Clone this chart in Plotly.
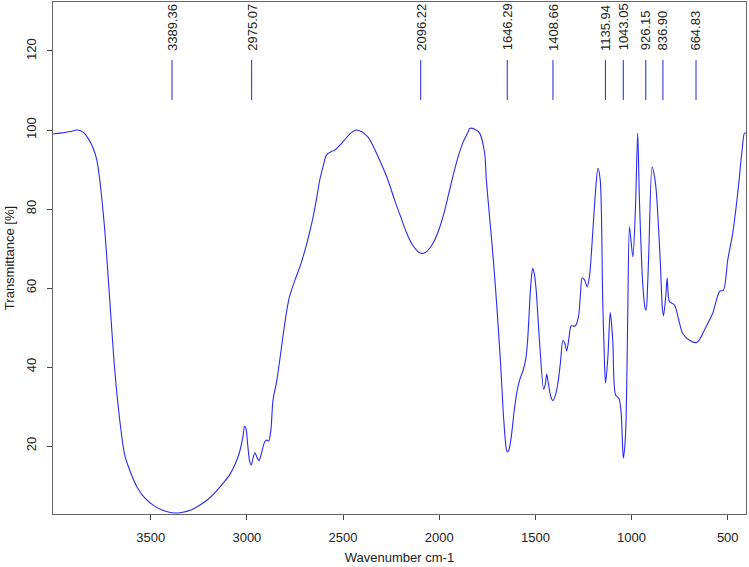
import plotly.graph_objects as go

# IR spectrum
wavenumber = [4008, 3970, 3920, 3880, 3850, 3827, 3800, 3780, 3765, 3739, 3713, 3687,
              3661, 3635, 3610, 3570, 3530, 3480, 3430, 3390, 3340, 3290, 3246, 3200,
              3168, 3120, 3090, 3060, 3038, 3020, 3012, 3005, 2995, 2985, 2977, 2968,
              2958, 2948, 2937, 2925, 2907, 2895, 2887, 2876, 2864, 2844, 2820, 2800,
              2780, 2750, 2720, 2690, 2660, 2640, 2620, 2600, 2586, 2560, 2540, 2510,
              2492, 2460, 2430, 2400, 2392, 2370, 2350, 2310, 2270, 2230, 2200, 2170,
              2140, 2110, 2096, 2075, 2050, 2025, 2000, 1975, 1950, 1925, 1900, 1875,
              1850, 1842, 1815, 1790, 1764, 1755, 1740, 1720, 1700, 1680, 1665, 1652,
              1646, 1638, 1625, 1610, 1595, 1580, 1565, 1550, 1540, 1531, 1522, 1514,
              1505, 1496, 1478, 1457, 1449, 1441, 1433, 1420, 1409, 1395, 1383, 1370,
              1357, 1347, 1337, 1325, 1314, 1293, 1276, 1265, 1257, 1244, 1231, 1219,
              1210, 1201, 1188, 1175, 1163, 1150, 1140, 1135, 1123, 1111, 1104, 1097,
              1083, 1066, 1054, 1043, 1035, 1028, 1020, 1011, 1003, 993, 980, 968,
              959, 942, 930, 924, 917, 910, 893, 880, 872, 851, 840, 834,
              822, 815, 803, 777, 750, 734, 699, 661, 640, 621, 578, 543,
              522, 500, 474, 448, 425, 413, 405]
transmittance = [99.0, 99.2, 99.6, 100.0, 99.4, 98.0, 95.5, 92.4, 87.4, 74.7, 57.0, 39.3,
                 26.6, 17.7, 14.0, 9.5, 6.8, 4.8, 3.6, 3.1, 3.2, 3.8, 5.0, 6.6,
                 8.1, 10.8, 12.7, 15.5, 18.5, 22.5, 25.0, 24.5, 20.0, 16.0, 15.2, 17.0,
                 18.3, 17.2, 16.3, 18.0, 21.1, 21.5, 21.2, 23.6, 31.7, 36.7, 45.0, 52.0,
                 57.5, 62.0, 66.0, 71.0, 77.0, 82.0, 87.6, 91.5, 93.7, 94.6, 95.0, 96.5,
                 97.5, 99.2, 100.0, 99.5, 99.2, 98.2, 96.6, 92.4, 87.8, 82.0, 78.0, 74.0,
                 71.0, 69.2, 68.8, 68.9, 70.0, 72.0, 75.0, 79.0, 84.0, 89.0, 93.5, 97.0,
                 99.5, 100.4, 100.2, 99.2, 94.2, 87.4, 79.0, 68.0, 55.0, 40.0, 27.0, 19.5,
                 18.5, 19.0, 22.5, 29.0, 34.0, 37.0, 39.0, 42.0, 47.0, 55.0, 62.0, 65.0,
                 63.5, 59.5, 46.1, 34.4, 35.5, 38.2, 36.0, 32.5, 31.5, 33.0, 35.9, 41.0,
                 46.7, 46.0, 44.1, 47.5, 50.4, 50.4, 52.7, 59.0, 62.6, 62.0, 60.3, 62.9,
                 68.0, 74.7, 84.0, 90.3, 87.4, 57.0, 40.0, 35.9, 42.6, 53.8, 51.0, 46.0,
                 32.9, 32.1, 28.3, 16.9, 20.0, 27.4, 52.7, 75.5, 72.0, 67.9, 79.8, 99.2,
                 82.3, 61.2, 55.0, 54.4, 60.0, 69.6, 90.7, 88.0, 84.8, 67.1, 55.0, 52.9,
                 58.0, 62.5, 56.6, 55.7, 51.0, 48.5, 46.8, 46.2, 47.5, 49.4, 53.6, 59.1,
                 59.5, 67.1, 73.9, 84.0, 95.0, 99.2, 99.2]

peak_pos = [3389.36, 2975.07, 2096.22, 1646.29, 1408.66, 1135.94, 1043.05, 926.15, 836.90, 664.83]
peak_labels = ["3389.36", "2975.07", "2096.22", "1646.29", "1408.66",
               "1135.94", "1043.05", "926.15", "836.90", "664.83"]

x_ticks = [3500, 3000, 2500, 2000, 1500, 1000, 500]
y_ticks = [20, 40, 60, 80, 100, 120]

font = "Liberation Sans, Arial, sans-serif"

fig = go.Figure()

fig.add_trace(go.Scatter(
    x=wavenumber, y=transmittance,
    mode="lines",
    line=dict(color="#2b2bf0", width=1.1, shape="spline", smoothing=0.8),
    hoverinfo="x+y"
))

# short marker lines above each labelled peak
lx, ly = [], []
for p in peak_pos:
    lx += [p, p, None]
    ly += [107.6, 117.7, None]
fig.add_trace(go.Scatter(
    x=lx, y=ly, mode="lines",
    line=dict(color="#2323e6", width=1),
    hoverinfo="none"
))

for p, lab in zip(peak_pos, peak_labels):
    fig.add_annotation(
        x=p, y=119.6, text=lab, textangle=-90,
        showarrow=False, xanchor="center", yanchor="bottom",
        font=dict(family=font, size=13, color="#222")
    )

fig.update_layout(
    width=749, height=567,
    margin=dict(l=53, r=3, t=2, b=53),
    plot_bgcolor="white", paper_bgcolor="white",
    showlegend=False,
    font=dict(family=font, size=13, color="#222"),
    xaxis=dict(
        range=[4008, 405], tickvals=x_ticks,
        showgrid=False, zeroline=False,
        showline=True, mirror=True, linecolor="#666", linewidth=1,
        ticks="outside", ticklen=5, tickcolor="#444",
        ticklabelstandoff=6,
        title=dict(text="Wavenumber cm-1", standoff=9,
                   font=dict(family=font, size=13, color="#222"))
    ),
    yaxis=dict(
        range=[2.8, 132.4], tickvals=y_ticks, tickangle=-90,
        showgrid=False, zeroline=False,
        showline=True, mirror=True, linecolor="#666", linewidth=1,
        ticks="outside", ticklen=5, tickcolor="#444",
        ticklabelstandoff=6,
        title=dict(text="Transmittance [%]", standoff=6,
                   font=dict(family=font, size=13, color="#222"))
    )
)

# drop the default page margin so the figure sits at the window corner
fig.write_html("out.html", config={"displayModeBar": False},
               post_script="document.body.style.margin='0';")
